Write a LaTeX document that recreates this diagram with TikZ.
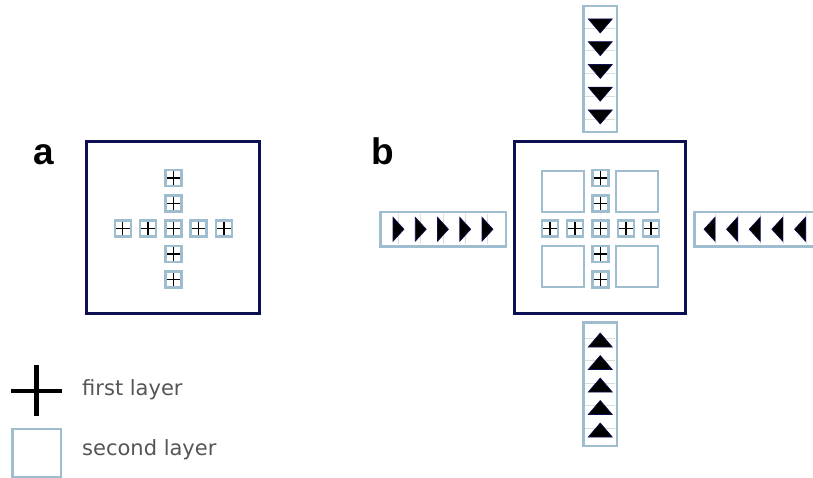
\documentclass[tikz,border=0pt]{standalone}
\usepackage{fontspec}
\setmainfont{DejaVu Sans}
\newfontfamily\lblfont{Liberation Sans}
\definecolor{navy}{RGB}{14,14,82}
\definecolor{lblue}{RGB}{158,190,208}
\definecolor{txtgray}{RGB}{85,85,85}
\definecolor{divgray}{RGB}{220,220,220}
\tikzset{
  outerbox/.style={draw=navy,line width=3.2pt,inner sep=0,outer sep=0},
  cellbox/.style={draw=lblue,line width=2.4pt,minimum size=16pt,inner sep=0,outer sep=0,
    path picture={\draw[black,line width=1.5pt]
      (path picture bounding box.west) -- (path picture bounding box.east)
      (path picture bounding box.north) -- (path picture bounding box.south);}},
  sqbox/.style={draw=lblue,line width=2.2pt,minimum size=41.5pt,inner sep=0,outer sep=0},
  barbox/.style={draw=lblue,line width=2.8pt,inner sep=0,outer sep=0},
  divider/.style={draw=divgray,line width=0.7pt},
  trifill/.style={draw=navy,fill=black,line width=0.6pt,line join=miter},
  lbl/.style={inner sep=0,anchor=base west,font=\lblfont\bfseries\fontsize{37}{40}\selectfont},
  legtext/.style={inner sep=0,anchor=base west,text=txtgray,font=\fontsize{21}{25}\selectfont},
  tridown/.pic={\path[trifill] (-12,-7) -- (12,-7) -- (0,7) -- cycle;},
  triup/.pic={\path[trifill] (-12,7) -- (12,7) -- (0,-7) -- cycle;},
  triright/.pic={\path[trifill] (-5.5,-12) -- (5.5,0) -- (-5.5,12) -- cycle;},
  trileft/.pic={\path[trifill] (5.5,-12) -- (-5.5,0) -- (5.5,12) -- cycle;}
}
\begin{document}
\begin{tikzpicture}[x=1pt,y=-1pt]
\useasboundingbox (0,0) rectangle (813,478);
\clip (0,0) rectangle (813,478);

% labels
\node[lbl] (la) at (33.5,164.3) {a};
\node[lbl] (lb) at (371.5,164.3) {b};

% panel a
\node[outerbox,minimum width=173pt,minimum height=172pt] (boxA) at (173,227.5) {};
\foreach \i in {-2,...,2} {
  \node[cellbox] (ah\i) at (173.3+25.3*\i,228.7) {};
}
\foreach \i in {-2,-1,1,2} {
  \node[cellbox] (av\i) at (173.3,228.7+25.3*\i) {};
}

% panel b
\node[outerbox,minimum width=171pt,minimum height=172pt] (boxB) at (599.7,227.5) {};
\foreach \i in {-2,...,2} {
  \node[cellbox] (bh\i) at (600.5+25.3*\i,228.7) {};
}
\foreach \i in {-2,-1,1,2} {
  \node[cellbox] (bv\i) at (600.5,228.7+25.3*\i) {};
}
\node[sqbox] (sqTL) at (563,191.5) {};
\node[sqbox] (sqTR) at (637,191.5) {};
\node[sqbox] (sqBL) at (563,266.5) {};
\node[sqbox] (sqBR) at (637,266.5) {};

% top bar
\node[barbox,minimum width=33.5pt,minimum height=126pt] (barT) at (600.25,69) {};
\foreach \y in {26,48.7,71.5,94.2,117} {
  \draw[divider] (585,\y+2) -- (615,\y+2);
}
\foreach \y in {26,48.7,71.5,94.2,117} {
  \pic at (600.25,\y) {tridown};
}

% bottom bar
\node[barbox,minimum width=33.5pt,minimum height=123.5pt] (barB) at (600.25,384.25) {};
\foreach \y in {340,362.5,385,407.5,430} {
  \draw[divider] (585,\y-2) -- (615,\y-2);
}
\foreach \y in {340,362.5,385,407.5,430} {
  \pic at (600.25,\y) {triup};
}

% left bar
\node[barbox,minimum width=125.5pt,minimum height=34.5pt] (barL) at (443.25,229.25) {};
\foreach \x in {398.5,420.75,443,465.25,487.5} {
  \draw[divider] (\x,214) -- (\x,244.5);
}
\foreach \x in {398.5,420.75,443,465.25,487.5} {
  \pic at (\x,229.25) {triright};
}

% right bar
\node[barbox,minimum width=125.5pt,minimum height=34.5pt] (barR) at (757.25,229.25) {};
\foreach \x in {709.5,732,754.7,777.3,800} {
  \draw[divider] (\x+6,214) -- (\x+6,244.5);
}
\foreach \x in {709.5,732,754.7,777.3,800} {
  \pic at (\x,229.25) {trileft};
}

% legend
\coordinate (crossC) at (36.5,391);
\draw[black,line width=4.5pt] (11,391) -- (62,391) (36.5,365) -- (36.5,416);
\node[draw=lblue,line width=2.2pt,minimum size=48.5pt,inner sep=0,outer sep=0] (legSq) at (36.7,453.3) {};
\node[legtext] (t1) at (82,395) {first layer};
\node[legtext] (t2) at (82,455) {second layer};
\end{tikzpicture}
\end{document}
